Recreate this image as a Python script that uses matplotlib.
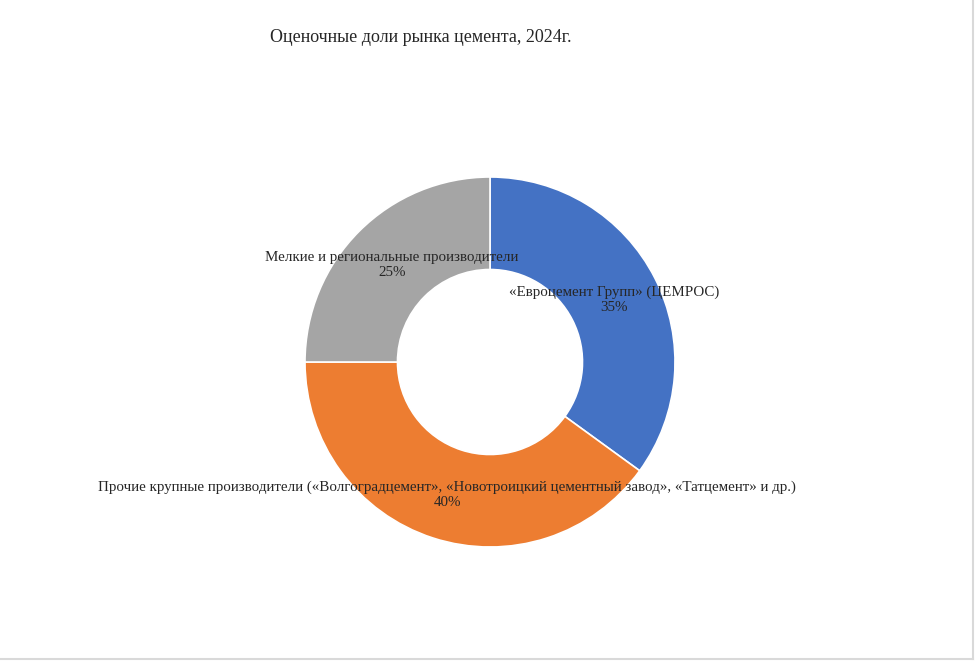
import numpy as np
import matplotlib.pyplot as plt
from matplotlib.lines import Line2D

plt.rcParams['font.family'] = ['Liberation Serif', 'DejaVu Serif']

# Данные
names = ['«Евроцемент Групп» (ЦЕМРОС)',
         'Прочие крупные производители («Волгоградцемент», «Новотроицкий цементный завод», «Татцемент» и др.)',
         'Мелкие и региональные производители']
shares = [35, 40, 25]
colors = ['#4472C4', '#ED7D31', '#A5A5A5']
title = 'Оценочные доли рынка цемента, 2024г.'

W, H = 975, 661
fig = plt.figure(figsize=(W / 100, H / 100), dpi=100)
ax = fig.add_axes([0, 0, 1, 1])

cx, cy, R = 490, H - 362, 185
wedges, _ = ax.pie(shares, colors=colors, startangle=90, counterclock=False,
                   center=(cx, cy), radius=R,
                   wedgeprops=dict(width=R * 0.5, edgecolor='white', linewidth=1.2))

# подписи в середине кольца
for w, name, s in zip(wedges, names, shares):
    a = np.deg2rad((w.theta1 + w.theta2) / 2)
    x = cx + 0.75 * R * np.cos(a)
    y = cy + 0.75 * R * np.sin(a)
    ax.text(x, y - 1, name + '\n' + str(s) + '%', ha='center', va='center',
            fontsize=10.85, color='#262626', linespacing=1.2)

ax.set_xlim(0, W)
ax.set_ylim(0, H)
ax.set_aspect('auto')
ax.axis('off')

fig.text(421 / W, 1 - 37 / H, title, ha='center', va='center', fontsize=13, color='#262626')

# рамка справа и снизу
fig.add_artist(Line2D([973 / W, 973 / W], [1 - 659 / H, 1], transform=fig.transFigure, color='#d9d9d9', lw=1.5))
fig.add_artist(Line2D([0, 973 / W], [1 - 659 / H, 1 - 659 / H], transform=fig.transFigure, color='#d9d9d9', lw=1.5))

fig.savefig('out.png', dpi=100)
